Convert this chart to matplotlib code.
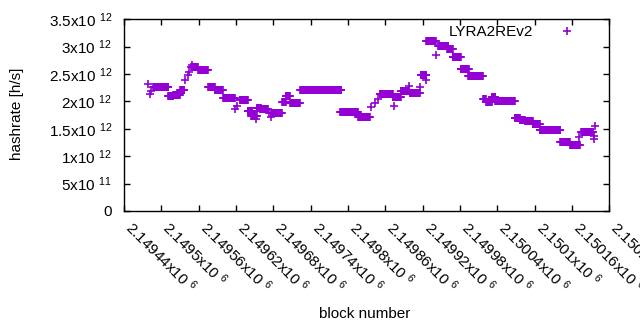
import numpy as np
import matplotlib
matplotlib.use('Agg')
import matplotlib.pyplot as plt
from matplotlib.transforms import ScaledTranslation

plt.rcParams['font.family'] = ['Liberation Sans', 'DejaVu Sans']
plt.rcParams['mathtext.fontset'] = 'custom'
plt.rcParams['mathtext.rm'] = 'Liberation Sans'
plt.rcParams['mathtext.it'] = 'Liberation Sans:italic'

# hashrate is constant between difficulty updates: (first block, last block, rate in 1e12 h/s)
seg_start = [2149487, 2149511, 2149519, 2149530, 2149550, 2149559, 2149575, 2149586, 2149599,
             2149626, 2149639, 2149644, 2149653, 2149658, 2149677, 2149694, 2149700, 2149707,
             2149723, 2149787, 2149816, 2149851, 2149872, 2149885, 2149899, 2149917, 2149926,
             2149945, 2149959, 2149968, 2149981, 2149993, 2150017, 2150022, 2150031, 2150037,
             2150068, 2150076, 2150084, 2150097, 2150108, 2150141, 2150157, 2150176]
seg_end = [2149511, 2149519, 2149530, 2149537, 2149559, 2149575, 2149586, 2149599, 2149618,
           2149639, 2149646, 2149653, 2149660, 2149671, 2149694, 2149700, 2149707, 2149723,
           2149789, 2149816, 2149835, 2149872, 2149885, 2149898, 2149915, 2149926, 2149941,
           2149961, 2149968, 2149981, 2149994, 2150017, 2150022, 2150031, 2150037, 2150068,
           2150076, 2150084, 2150097, 2150108, 2150141, 2150157, 2150173, 2150194]
seg_rate = [2.259, 2.094, 2.118, 2.204, 2.629, 2.569, 2.259, 2.204, 2.058,
            2.018, 1.831, 1.735, 1.875, 1.857, 1.784, 1.985, 2.094, 1.966,
            2.204, 1.802, 1.716, 2.136, 2.081, 2.191, 2.160, 2.478, 3.109,
            3.018, 2.952, 2.817, 2.587, 2.470, 2.050, 1.985, 2.087, 2.003,
            1.703, 1.667, 1.643, 1.583, 1.473, 1.260, 1.205, 1.442]

# single blocks off the plateaus
pt_block = [2149479, 2149482, 2149483, 2149538, 2149543, 2149544, 2149548, 2149549,
            2149619, 2149621, 2149639, 2149652, 2149673, 2149676, 2149837, 2149843,
            2149848, 2149874, 2149898, 2149916, 2149926, 2149942, 2150171, 2150175,
            2150195, 2150196, 2150197]
pt_rate = [2.310, 2.145, 2.191, 2.386, 2.483, 2.533, 2.636, 2.666,
           1.857, 1.917, 1.834, 1.674, 1.789, 1.716, 1.899, 1.977,
           2.039, 1.912, 2.282, 2.259, 2.392, 2.848, 1.357, 1.448,
           1.370, 1.315, 1.557]

blocks = np.concatenate([np.arange(s, e + 1) for s, e in zip(seg_start, seg_end)] + [pt_block])
rates = np.concatenate([np.full(e - s + 1, r) for s, e, r in zip(seg_start, seg_end, seg_rate)] + [pt_rate]) * 1e12

fig = plt.figure(figsize=(6.4, 3.3), dpi=100)
ax = fig.add_axes([124/640, 1 - 211/330, 485.3/640, 191.7/330])

ax.plot(blocks, rates, '+', color='#9400d3', ms=6, mew=1.2, label='LYRA2REv2')

ax.set_xlim(2149440, 2150220)
ax.set_ylim(0, 3.5e12)

xt = np.arange(2149440, 2150221, 60)
xlab = ['%gx10 $^{6}$' % (t / 1e6) for t in xt]
ax.set_xticks(xt, xlab, rotation=-45, ha='left', va='baseline', rotation_mode='anchor', fontsize=11)
for lab in ax.get_xticklabels():
    lab.set_transform(lab.get_transform() + ScaledTranslation(-7/100, 0, fig.dpi_scale_trans))

yt = np.arange(0, 3.51e12, 0.5e12)
ylab = ['0']
for t in yt[1:]:
    e = int(np.floor(np.log10(t)))
    ylab.append('%gx10 $^{%d}$' % (t / 10**e, e))
ax.set_yticks(yt, ylab, fontsize=11)

ax.tick_params(direction='in', length=4, width=1, top=True, right=True)
ax.tick_params(axis='x', pad=13)
ax.tick_params(axis='y', pad=8.5)
for s in ax.spines.values():
    s.set_linewidth(1.0)

ax.set_xlabel('block number', fontsize=11)
ax.xaxis.set_label_coords((364.2 - 124) / 485.3, (211 - 307) / 191.7)
ax.set_ylabel('hashrate [h/s]', fontsize=11)
ax.yaxis.set_label_coords((24 - 124) / 485.3, (211 - 114) / 191.7)

ax.legend(loc='center right', bbox_to_anchor=((582.6 - 124) / 485.3, (211 - 32.5) / 191.7),
          frameon=False, markerfirst=False, numpoints=1, fontsize=11,
          handletextpad=1.22, borderpad=0, borderaxespad=0)

fig.savefig('out.png', dpi=100)
